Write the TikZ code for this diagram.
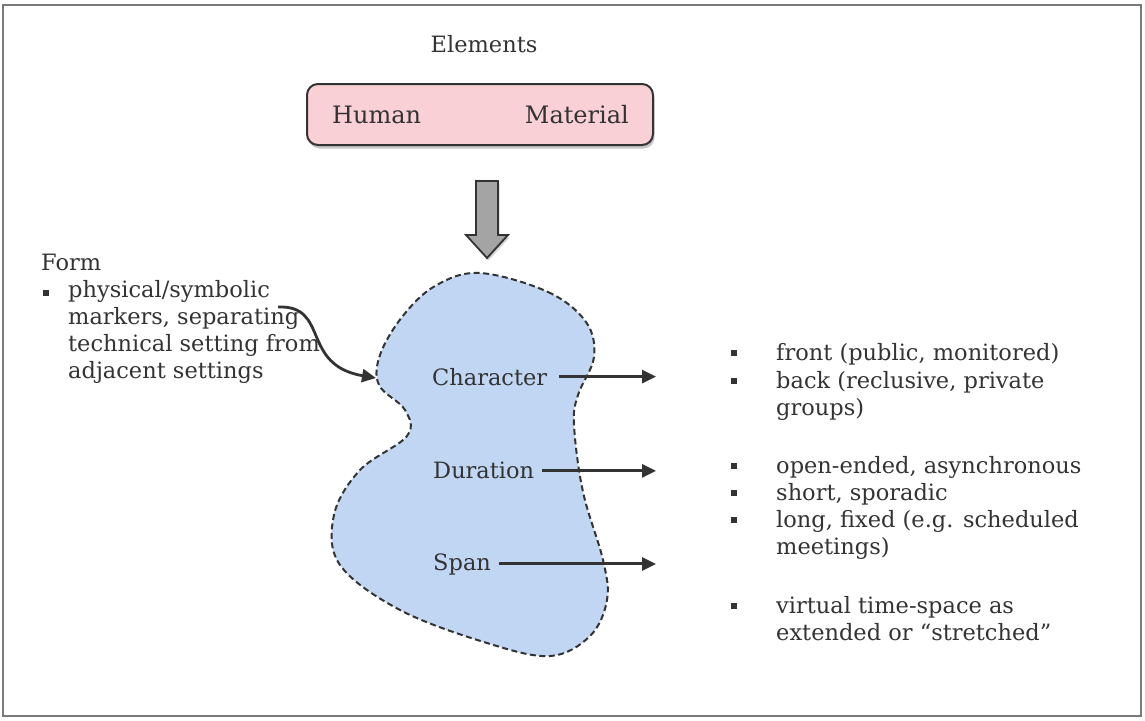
\documentclass[tikz,border=0pt]{standalone}
\usepackage{fontspec}
\setmainfont{DejaVu Serif}
\usetikzlibrary{shadows,arrows.meta}
\definecolor{ink}{HTML}{333333}
\definecolor{framegray}{HTML}{7A7A7A}
\definecolor{pinkfill}{HTML}{F8D0D6}
\definecolor{bluefill}{HTML}{C0D6F2}
\definecolor{arrowgray}{HTML}{A4A4A4}
\newcommand\bodyfont{\fontsize{22.5}{27}\selectfont}
\newcommand\boxfont{\fontsize{24}{28}\selectfont}
\tikzset{
  txt/.style={anchor=base west, inner sep=0pt, text=ink, font=\bodyfont},
  bul/.style={fill=ink, minimum size=5.5pt, inner sep=0pt},
  arr/.style={draw=ink, line width=3pt, -{Triangle[length=14pt,width=13pt]}},
}
\begin{document}
\begin{tikzpicture}[x=1pt,y=-1pt]
\useasboundingbox (0,0) rectangle (1145,720);
% outer frame
\draw[framegray, line width=2.2pt] (3,5) rectangle (1141,716);

% elements box
\node[txt, anchor=base] (elem) at (484,52) {Elements};
\draw[rounded corners=11pt, fill=pinkfill, draw=ink, line width=2pt,
      drop shadow={shadow xshift=1.5pt, shadow yshift=-3.5pt, opacity=0.45}]
  (307,84) rectangle (653,145);
\node[txt, font=\boxfont] (human) at (332,123) {Human};
\node[txt, font=\boxfont, anchor=base east] (mat) at (629,123) {Material};

% block arrow down
\draw[fill=arrowgray, draw=ink, line width=1.8pt,
      drop shadow={shadow xshift=1.5pt, shadow yshift=-2.5pt, opacity=0.35}]
  (476,181) -- (498,181) -- (498,235) -- (508,235) -- (487,258)
  -- (466,235) -- (476,235) -- cycle;

% blob
\draw[fill=bluefill, draw=ink, line width=2pt, dash pattern=on 6pt off 3.5pt]
  plot[smooth cycle, tension=0.6] coordinates {
    (480,273) (548,292) (586,322) (594,357) (578,395) (574,425)
    (583,492) (603,560) (607,600) (590,636) (550,656) (487,643)
    (400,610) (340,565) (334,515) (360,470) (407,436) (405,410)
    (379,385) (380,355) (402,317) (435,286)};

% labels in blob
\node[txt] (char) at (432,385) {Character};
\node[txt] (dur)  at (433,478) {Duration};
\node[txt] (span) at (433,570) {Span};
\coordinate (xend) at (656,0);
\draw[arr] ([xshift=12pt]char.east) -- (char.east -| xend);
\draw[arr] ([xshift=8pt,yshift=-1pt]dur.east) -- ([yshift=-1pt]dur.east -| xend);
\draw[arr] ([xshift=8pt]span.east) -- (span.east -| xend);

% form list
\node[txt] (form) at (41,270) {Form};
\node[bul] (fb) at (46,293) {};
\node[txt] (f1) at (68,297) {physical/symbolic};
\node[txt] (f2) at (68,324) {markers, separating};
\node[txt] (f3) at (68,351) {technical setting from};
\node[txt] (f4) at (68,378) {adjacent settings};
\coordinate (fstart) at (278,307);
\coordinate (fend) at (376,378);
\draw[draw=ink, line width=2.8pt, -{Triangle[length=14pt,width=13pt]}]
  (fstart) .. controls (330,305) and (300,365) .. (fend);

% right lists
\node[bul] (b1) at (734,353) {};
\node[txt] (r1) at (776,360) {front (public, monitored)};
\node[bul] (b2) at (734,381) {};
\node[txt] (r2) at (776,388) {back (reclusive, private};
\node[txt] (r2b) at (776,415) {groups)};
\node[bul] (b3) at (734,466) {};
\node[txt] (r3) at (776,473) {open-ended, asynchronous};
\node[bul] (b4) at (734,493) {};
\node[txt] (r4) at (776,500) {short, sporadic};
\node[bul] (b5) at (734,520) {};
\node[txt] (r5) at (776,527) {long, fixed (e.g. scheduled};
\node[txt] (r5b) at (776,554) {meetings)};
\node[bul] (b6) at (734,606) {};
\node[txt] (r6) at (776,613) {virtual time-space as};
\node[txt] (r6b) at (776,640) {extended or “stretched”};
\end{tikzpicture}
\end{document}
